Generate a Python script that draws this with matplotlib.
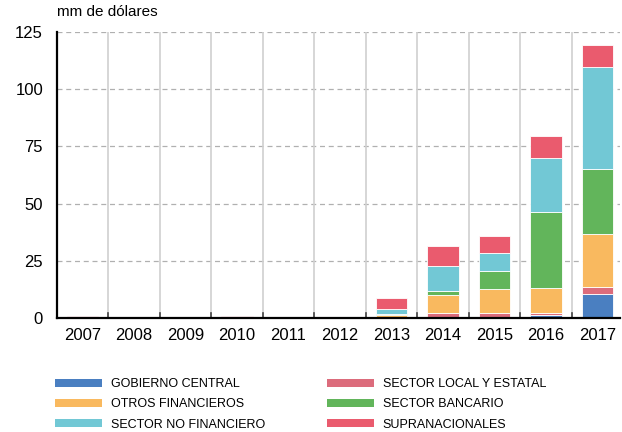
import matplotlib
matplotlib.use("Agg")
import matplotlib.pyplot as plt
import numpy as np
from matplotlib.patches import Patch

years = ["2007", "2008", "2009", "2010", "2011", "2012", "2013", "2014", "2015", "2016", "2017"]

gobierno = [0, 0, 0, 0, 0, 0, 0, 0, 0, 1.1, 10.5]
local = [0, 0, 0, 0, 0, 0, 0, 2.0, 2.0, 1.2, 3.2]
otros_fin = [0, 0, 0, 0, 0, 0, 1.5, 8.2, 10.7, 10.8, 23.0]
bancario = [0, 0, 0, 0, 0, 0, 0.4, 1.4, 7.7, 33.0, 28.3]
no_fin = [0, 0, 0, 0, 0, 0, 2.0, 11.1, 8.0, 23.6, 44.6]
supra = [0.8, 0.2, 0.2, 1.0, 0, 0, 5.0, 8.9, 7.4, 10.0, 9.6]

series = [
    ("GOBIERNO CENTRAL", gobierno, "#4a7fc1"),
    ("SECTOR LOCAL Y ESTATAL", local, "#dc6c7c"),
    ("OTROS FINANCIEROS", otros_fin, "#f9b95f"),
    ("SECTOR BANCARIO", bancario, "#62b55b"),
    ("SECTOR NO FINANCIERO", no_fin, "#72c8d5"),
    ("SUPRANACIONALES", supra, "#ea5b6e"),
]

plt.rcParams['font.family'] = ['Liberation Sans', 'DejaVu Sans']

fig = plt.figure(figsize=(6.22, 4.32), dpi=100)
ax = fig.add_axes([0.0916, 0.264, 0.905, 0.662])

x = np.arange(len(years))
bottom = np.zeros(len(years))
for name, vals, col in series:
    vals = np.array(vals)
    ax.bar(x, vals, 0.61, bottom=bottom, color=col, edgecolor="white", linewidth=0.6, zorder=3)
    bottom += vals

ax.set_xlim(-0.49, 10.43)
ax.set_ylim(0, 125)
ax.set_yticks([0, 25, 50, 75, 100, 125])
ax.set_xticks(x)
ax.set_xticklabels(years)
ax.tick_params(axis="y", length=0, labelsize=12, pad=10)
ax.tick_params(axis="x", length=0, labelsize=12, pad=7)

for yv in [25, 50, 75, 100, 125]:
    ax.axhline(yv, color="#b0b0b0", linestyle=(0, (4, 3)), linewidth=0.9, zorder=1)
for sep in np.arange(0.5, 10.5, 1):
    ax.axvline(sep, color="#d0d0d0", linewidth=1.2, zorder=1)
    ax.plot([sep, sep], [0, 2.2], color="#444444", linewidth=1.2, zorder=2)

for s in ["top", "right"]:
    ax.spines[s].set_visible(False)
ax.spines["left"].set_linewidth(1.6)
ax.spines["bottom"].set_linewidth(1.6)
ax.spines["left"].set_zorder(4)
ax.spines["bottom"].set_zorder(4)

fig.text(0.092, 0.955, "mm de dólares", fontsize=11, ha="left", va="bottom")

def add_legend(idx, xpos):
    handles = [Patch(facecolor=series[i][2], edgecolor="none") for i in idx]
    labels = [series[i][0] for i in idx]
    leg = fig.legend(handles, labels, loc="upper left", bbox_to_anchor=(xpos, 0.125),
                     frameon=False, fontsize=9, handlelength=3.8, handleheight=0.6,
                     handletextpad=0.65, labelspacing=0.66, borderpad=0, borderaxespad=0)
    return leg

add_legend([0, 2, 4], 0.0884)
add_legend([1, 3, 5], 0.5257)

fig.savefig("out.png", dpi=100)
